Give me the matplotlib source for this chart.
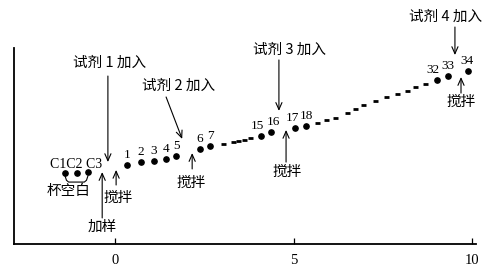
import matplotlib.pyplot as plt

# blank cup points C1-C3
blank_x = [-1.40, -1.06, -0.76]
blank_y = [0.362, 0.362, 0.367]
blank_lab = ["C1", "C2", "C3"]

# numbered (labelled) reading points
num_x = [0.34, 0.73, 1.09, 1.43, 1.71, 2.38, 2.66, 4.09, 4.37, 5.04, 5.35, 9.02, 9.33, 9.89]
num_y = [0.403, 0.418, 0.423, 0.434, 0.449, 0.485, 0.500, 0.551, 0.571, 0.592, 0.602, 0.837, 0.857, 0.883]
num_lab = ["1", "2", "3", "4", "5", "6", "7", "15", "16", "17", "18", "32", "33", "34"]

# unlabelled readings (drawn as small dashes)
mid_x = [3.03, 3.31, 3.45, 3.61, 3.78,
         5.66, 5.91, 6.16, 6.50, 6.72, 6.95, 7.28, 7.59, 7.90, 8.18, 8.40, 8.68]
mid_y = [0.510, 0.520, 0.526, 0.531, 0.541,
         0.617, 0.633, 0.643, 0.668, 0.689, 0.709, 0.730, 0.750, 0.765, 0.781, 0.801, 0.816]

xticks = [0, 5, 10]

cjk = ['Noto Sans CJK SC', 'DejaVu Sans']
serif = 'Liberation Serif'

fig = plt.figure(figsize=(4.93, 2.72), dpi=100)
ax = fig.add_axes([14 / 493, 28 / 272, 462 / 493, 196 / 272])
ax.set_xlim(-2.83, 10.11)
ax.set_ylim(0, 1)

for s in ['top', 'right']:
    ax.spines[s].set_visible(False)
for s in ['left', 'bottom']:
    ax.spines[s].set_linewidth(1.3)
ax.set_yticks([])
ax.set_xticks(xticks)
ax.set_xticklabels([str(t) for t in xticks], fontfamily=serif, fontsize=10.5)
ax.tick_params(axis='x', direction='in', length=4, width=0.9, pad=7)

# points
ax.plot(blank_x, blank_y, 'o', color='k', ms=3.8, clip_on=False)
ax.plot(num_x, num_y, 'o', color='k', ms=3.8, clip_on=False)
ax.plot(mid_x, mid_y, '_', color='k', ms=3.6, mew=2.0, clip_on=False)

# small sideways nudges so the crowded number labels stay apart
nudge = {"15": -2.5, "16": 1.5, "17": -1.5, "18": 0.5, "32": -3, "33": -0.5, "34": -1}
for x, y, t in zip(num_x, num_y, num_lab):
    ax.annotate(t, (x, y), xytext=(nudge.get(t, 0), 7.5), textcoords='offset points',
                ha='center', va='center', fontfamily=serif, fontsize=9.5)

ax.text(-1.09, 0.405, "C1C2 C3", ha='center', va='center', fontfamily=serif, fontsize=10)
# brace under blanks
ax.plot([-1.40, -1.36, -1.30, -0.86, -0.80, -0.76],
        [0.347, 0.325, 0.316, 0.316, 0.325, 0.347], color='k', lw=0.8)
ax.text(-1.29, 0.268, "杯空白", ha='center', va='center', family=cjk, fontsize=10.5)


def arrow(x0, y0, x1, y1):
    ax.annotate('', xy=(x1, y1), xytext=(x0, y0), annotation_clip=False,
                arrowprops=dict(arrowstyle='->,head_length=0.5,head_width=0.22',
                                lw=0.8, color='k', shrinkA=0, shrinkB=0))


def label(x, y, t):
    ax.text(x, y, t, ha='center', va='center', family=cjk, fontsize=10.5, clip_on=False)


label(-0.14, 0.923, "试剂 1 加入")
arrow(-0.20, 0.857, -0.20, 0.418)
label(1.79, 0.806, "试剂 2 加入")
arrow(1.43, 0.750, 1.88, 0.536)
label(4.90, 0.990, "试剂 3 加入")
arrow(4.59, 0.939, 4.59, 0.679)
label(9.27, 1.158, "试剂 4 加入")
arrow(9.52, 1.107, 9.52, 0.964)

label(9.69, 0.724, "搅拌")
arrow(9.69, 0.770, 9.69, 0.852)
label(4.82, 0.367, "搅拌")
arrow(4.79, 0.418, 4.79, 0.582)
label(2.13, 0.311, "搅拌")
arrow(2.16, 0.383, 2.16, 0.464)
label(0.08, 0.235, "搅拌")
arrow(0.03, 0.301, 0.03, 0.378)
label(-0.36, 0.087, "加样")
arrow(-0.36, 0.133, -0.36, 0.367)

fig.savefig("out.png", dpi=100)
